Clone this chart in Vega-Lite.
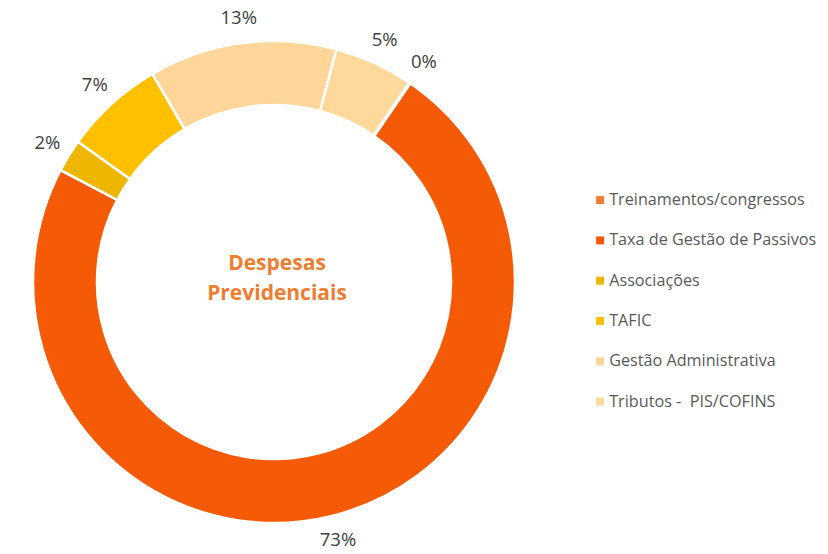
{
  "$schema": "https://vega.github.io/schema/vega-lite/v6.json",
  "autosize": {"type": "none"},
  "width": 548,
  "height": 544,
  "padding": {"left": 0, "top": 10, "right": 280, "bottom": 0},
  "background": "white",
  "config": {
    "view": {"stroke": null},
    "font": "Open Sans"
  },
  "data": {
    "values": [
      {"categoria": "Treinamentos/congressos", "valor": 0.001, "ordem": 1},
      {"categoria": "Taxa de Gestão de Passivos", "valor": 0.731, "ordem": 2},
      {"categoria": "Associações", "valor": 0.022, "ordem": 3},
      {"categoria": "TAFIC", "valor": 0.067, "ordem": 4},
      {"categoria": "Gestão Administrativa", "valor": 0.126, "ordem": 5},
      {"categoria": "Tributos -\u00a0 PIS/COFINS", "valor": 0.053, "ordem": 6}
    ]
  },
  "layer": [
    {
      "mark": {"type": "arc", "outerRadius": 241, "innerRadius": 177, "stroke": "white", "strokeWidth": 2.5},
      "encoding": {
        "theta": {"field": "valor", "type": "quantitative", "stack": true, "scale": {"range": [0.5958, 6.879]}},
        "order": {"field": "ordem", "type": "quantitative"},
        "color": {
          "field": "categoria",
          "type": "nominal",
          "scale": {
            "domain": ["Treinamentos/congressos", "Taxa de Gestão de Passivos", "Associações", "TAFIC", "Gestão Administrativa", "Tributos -\u00a0 PIS/COFINS"],
            "range": ["#ED7D31", "#F55B06", "#EDB600", "#FFC000", "#FFD699", "#FFD89C"]
          },
          "legend": {
            "title": null,
            "orient": "none",
            "legendX": 592,
            "legendY": 182,
            "symbolType": "square",
            "symbolSize": 64,
            "symbolStrokeWidth": 0,
            "labelFontSize": 16.2,
            "labelFont": "Open Sans",
            "labelColor": "#595959",
            "labelOffset": 1,
            "rowPadding": 23.3,
            "padding": 0,
            "labelLimit": 300
          }
        }
      }
    },
    {
      "mark": {"type": "text", "fontSize": 18.5, "color": "#404040", "align": "center", "baseline": "middle"},
      "encoding": {
        "theta": {"field": "valor", "type": "quantitative", "stack": true},
        "order": {"field": "ordem", "type": "quantitative"},
        "radius": {"value": 266},
        "text": {"field": "valor", "type": "quantitative", "format": ".0%"}
      }
    },
    {
      "data": {"values": [{"titulo": "Despesas Previdenciais"}]},
      "mark": {"type": "text", "text": ["Despesas", "Previdenciais"], "fontSize": 21, "fontWeight": "bold", "color": "#ED7D31", "align": "center", "baseline": "middle", "lineHeight": 30, "dx": 3, "dy": -18},
      "encoding": {}
    }
  ]
}
